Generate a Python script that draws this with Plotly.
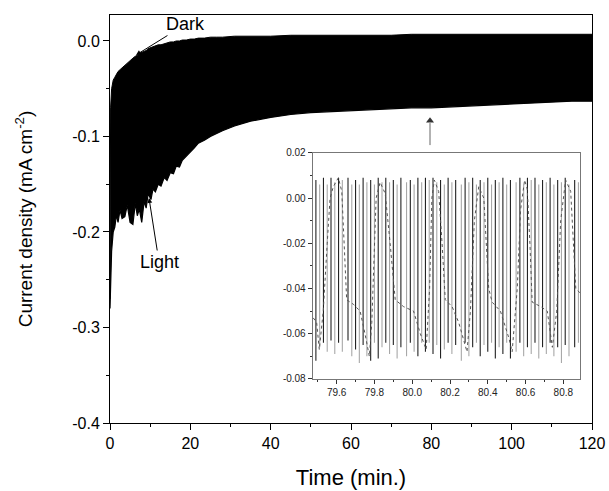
import plotly.graph_objects as go

# ---- main chopped-light envelope ----
t_env = [0, 0.15, 0.4, 0.8, 1.2, 1.6, 2.0, 2.5, 3.0, 3.7, 4.3, 5.0, 5.7, 6.3, 6.8, 7.3,
         7.9, 8.5, 9.0, 9.5, 10.2, 10.7, 11.3, 12, 12.7, 13.5, 14.2, 15, 15.8, 16.5,
         17.3, 18, 19, 20, 21, 22, 23.5, 25, 26.5, 28, 31, 35, 40, 45, 50, 55, 60, 65,
         70, 75, 80, 85, 90, 95, 100, 105, 110, 115, 120]
dark_env = [-0.27, -0.07, -0.05, -0.041, -0.038, -0.035, -0.032, -0.03, -0.028, -0.026,
            -0.023, -0.021, -0.018, -0.016, -0.015, -0.013, -0.012, -0.011, -0.010,
            -0.008, -0.007, -0.006, -0.005, -0.004, -0.004, -0.003, -0.002, -0.001,
            -0.001, 0.000, 0.000, 0.001, 0.001, 0.002, 0.002, 0.003, 0.003, 0.004, 0.004,
            0.004, 0.005, 0.005, 0.005, 0.006, 0.006, 0.006, 0.006, 0.006, 0.006, 0.007,
            0.007, 0.007, 0.007, 0.007, 0.007, 0.007, 0.007, 0.007, 0.007]
light_env = [-0.28, -0.26, -0.22, -0.20, -0.195, -0.182, -0.19, -0.177, -0.186, -0.184,
             -0.172, -0.19, -0.192, -0.17, -0.183, -0.176, -0.19, -0.168, -0.175, -0.16,
             -0.166, -0.155, -0.158, -0.150, -0.152, -0.143, -0.146, -0.138, -0.139,
             -0.131, -0.132, -0.125, -0.121, -0.116, -0.112, -0.107, -0.104, -0.10,
             -0.097, -0.094, -0.089, -0.084, -0.08, -0.077, -0.075, -0.074, -0.073,
             -0.072, -0.071, -0.070, -0.070, -0.069, -0.068, -0.067, -0.066, -0.065,
             -0.064, -0.063, -0.063]

# ---- inset: individual chopping spikes ----
spike_t = [79.49, 79.51, 79.53, 79.55, 79.57, 79.59, 79.61, 79.63, 79.66, 79.68, 79.70,
           79.72, 79.74, 79.76, 79.78, 79.80, 79.82, 79.84, 79.86, 79.88, 79.90, 79.92,
           79.94, 79.97, 79.99, 80.01, 80.03, 80.05, 80.07, 80.09, 80.11, 80.13, 80.15,
           80.17, 80.19, 80.21, 80.23, 80.26, 80.28, 80.30, 80.32, 80.34, 80.36, 80.38,
           80.40, 80.42, 80.44, 80.46, 80.48, 80.50, 80.52, 80.55, 80.57, 80.59, 80.61,
           80.63, 80.65, 80.67, 80.69, 80.71, 80.73, 80.75, 80.77, 80.79, 80.81, 80.83,
           80.86, 80.88]
spike_hi = [0.008, 0.006, 0.009, 0.006, 0.009, 0.007, 0.009, 0.008, 0.009, 0.006, 0.008,
            0.006, 0.009, 0.007, 0.008, 0.006, 0.009, 0.007, 0.009, 0.007, 0.008, 0.006,
            0.009, 0.007, 0.008, 0.006, 0.009, 0.007, 0.009, 0.008, 0.009, 0.007, 0.008,
            0.006, 0.009, 0.007, 0.008, 0.006, 0.009, 0.007, 0.009, 0.006, 0.008, 0.007,
            0.009, 0.006, 0.008, 0.007, 0.009, 0.006, 0.008, 0.007, 0.009, 0.006, 0.009,
            0.008, 0.009, 0.006, 0.008, 0.007, 0.009, 0.006, 0.008, 0.007, 0.009, 0.006,
            0.008, 0.007]
spike_lo = [-0.072, -0.066, -0.064, -0.068, -0.063, -0.069, -0.064, -0.068, -0.063, -0.070,
            -0.067, -0.073, -0.065, -0.070, -0.072, -0.064, -0.071, -0.066, -0.064, -0.069,
            -0.065, -0.071, -0.066, -0.070, -0.064, -0.068, -0.070, -0.064, -0.068, -0.064,
            -0.069, -0.065, -0.071, -0.067, -0.064, -0.069, -0.065, -0.072, -0.064, -0.070,
            -0.066, -0.064, -0.070, -0.065, -0.068, -0.064, -0.071, -0.066, -0.069, -0.064,
            -0.071, -0.068, -0.064, -0.070, -0.066, -0.069, -0.064, -0.071, -0.066, -0.069,
            -0.064, -0.070, -0.066, -0.073, -0.065, -0.070, -0.066, -0.064]

# ---- inset: sampled (dotted) trace seen between the spikes ----
wave_t = [79.476, 79.494, 79.508, 79.529, 79.550, 79.565, 79.582, 79.609, 79.627, 79.639,
          79.653, 79.689, 79.724, 79.750, 79.773, 79.786, 79.798, 79.809, 79.830, 79.857,
          79.883, 79.910, 79.954, 80.007, 80.043, 80.074, 80.092, 80.104, 80.117, 80.140,
          80.158, 80.175, 80.211, 80.246, 80.290, 80.308, 80.329, 80.352, 80.379, 80.405,
          80.423, 80.467, 80.512, 80.529, 80.556, 80.574, 80.595, 80.609, 80.623, 80.635,
          80.680, 80.715, 80.742, 80.765, 80.786, 80.812, 80.839, 80.866, 80.889]
wave_j = [-0.053, -0.055, -0.067, -0.050, -0.020, 0.000, 0.005, 0.009, 0.003, -0.020,
          -0.045, -0.047, -0.050, -0.060, -0.070, -0.055, -0.025, 0.000, 0.007, 0.002,
          -0.020, -0.045, -0.048, -0.050, -0.060, -0.067, -0.040, 0.000, 0.008, 0.003,
          -0.020, -0.045, -0.048, -0.055, -0.068, -0.050, -0.010, 0.005, 0.000, -0.040,
          -0.046, -0.050, -0.062, -0.068, -0.040, -0.005, 0.008, 0.004, -0.020, -0.046,
          -0.048, -0.050, -0.066, -0.050, -0.010, 0.008, 0.003, -0.040, -0.042]

main_xticks = [0, 20, 40, 60, 80, 100, 120]
main_yticks = [0.0, -0.1, -0.2, -0.3, -0.4]
main_ylabels = ["0.0", "-0.1", "-0.2", "-0.3", "-0.4"]
inset_xticks = [79.6, 79.8, 80.0, 80.2, 80.4, 80.6, 80.8]
inset_xlabels = ["79.6", "79.8", "80.0", "80.2", "80.4", "80.6", "80.8"]
inset_yticks = [0.02, 0.0, -0.02, -0.04, -0.06, -0.08]
inset_ylabels = ["0.02", "0.00", "-0.02", "-0.04", "-0.06", "-0.08"]

fig = go.Figure()

fig.add_trace(go.Scatter(x=t_env, y=dark_env, mode="lines",
                         line=dict(color="black", width=1), hoverinfo="skip"))
fig.add_trace(go.Scatter(x=t_env, y=light_env, mode="lines", fill="tonexty",
                         fillcolor="black", line=dict(color="black", width=1.2),
                         hoverinfo="skip"))

# inset spikes: alternate dark / light grey as in the picture
for shade, start in (("#222222", 0), ("#a8a8a8", 1)):
    xs, ys = [], []
    for i in range(start, len(spike_t), 2):
        xs += [spike_t[i], spike_t[i], None]
        ys += [spike_hi[i], spike_lo[i], None]
    fig.add_trace(go.Scatter(x=xs, y=ys, mode="lines", xaxis="x2", yaxis="y2",
                             line=dict(color=shade, width=1.1), hoverinfo="skip"))

fig.add_trace(go.Scatter(x=wave_t, y=wave_j, mode="lines", xaxis="x2", yaxis="y2",
                         line=dict(color="#555555", width=1, dash="dot"),
                         hoverinfo="skip"))

# grey arrow pointing from the inset to the magnified region (t = 80 min)
fig.add_shape(type="line", xref="x", yref="y", x0=79.67, x1=79.67,
              y0=-0.109, y1=-0.086, line=dict(color="#666666", width=1))
fig.add_trace(go.Scatter(x=[79.67], y=[-0.0835], mode="markers", hoverinfo="skip",
                         marker=dict(symbol="triangle-up", size=7, color="#333333")))

font_family = "Liberation Sans, Arial, sans-serif"
tick_font = dict(size=16, color="black")

fig.update_layout(
    width=609, height=491,
    margin=dict(l=110, r=17, t=15, b=68),
    paper_bgcolor="white", plot_bgcolor="white",
    showlegend=False,
    font=dict(family=font_family, color="black"),
    xaxis=dict(range=[0, 120], domain=[0, 1], tickmode="array",
               tickvals=main_xticks, automargin=False,
               ticks="outside", ticklen=6, tickwidth=1, tickcolor="black",
               minor=dict(dtick=10, ticks="outside", ticklen=3, tickcolor="black"),
               showline=True, linecolor="black", linewidth=1, mirror=True,
               showgrid=False, zeroline=False, tickfont=tick_font,
               title=dict(text="Time (min.)", font=dict(size=22), standoff=18)),
    yaxis=dict(range=[-0.4, 0.0272], domain=[0, 1], tickmode="array",
               tickvals=main_yticks, ticktext=main_ylabels, automargin=False,
               ticks="outside", ticklen=6, tickwidth=1, tickcolor="black",
               minor=dict(dtick=0.05, ticks="outside", ticklen=3, tickcolor="black"),
               showline=True, linecolor="black", linewidth=1, mirror=True,
               showgrid=False, zeroline=False, tickfont=tick_font,
               title=dict(text="Current density (mA cm<sup>-2</sup>)",
                          font=dict(size=19), standoff=34)),
    xaxis2=dict(range=[79.473, 80.888], domain=[0.4205, 0.975], anchor="y2",
                tickmode="array", tickvals=inset_xticks, ticktext=inset_xlabels,
                automargin=False,
                ticks="outside", ticklen=4, tickcolor="#333333",
                minor=dict(dtick=0.1, ticks="outside", ticklen=2, tickcolor="#333333"),
                showline=True, linecolor="#777777", linewidth=1, mirror=True,
                showgrid=False, zeroline=False,
                tickfont=dict(size=10, color="#222222")),
    yaxis2=dict(range=[-0.08, 0.02], domain=[0.108, 0.662], anchor="x2",
                tickmode="array", tickvals=inset_yticks, ticktext=inset_ylabels,
                automargin=False,
                ticks="outside", ticklen=4, tickcolor="#333333",
                minor=dict(dtick=0.01, ticks="outside", ticklen=2, tickcolor="#333333"),
                showline=True, linecolor="#777777", linewidth=1, mirror=True,
                showgrid=False, zeroline=False,
                tickfont=dict(size=10, color="#222222")),
    annotations=[
        dict(x=6.47, y=-0.0147, xref="x", yref="y", text="Dark", showarrow=True,
             ax=50, ay=-31, arrowhead=2, arrowsize=1, arrowwidth=1,
             arrowcolor="black", font=dict(size=18, color="black")),
        dict(x=9.71, y=-0.1644, xref="x", yref="y", text="Light", showarrow=True,
             ax=10, ay=64, arrowhead=2, arrowsize=1, arrowwidth=1,
             arrowcolor="black", font=dict(size=18, color="black")),
    ],
)

fig.write_html("out.html", config={"displayModeBar": False},
               post_script="document.body.style.margin='0px';"
                           "document.body.style.padding='0px';")
